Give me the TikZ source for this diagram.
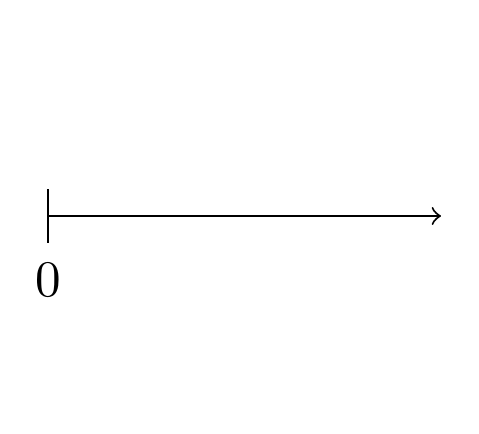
\documentclass[tikz,border=0pt]{standalone}
\usepackage{tikz}
\usetikzlibrary{positioning}

\begin{document}
\begin{tikzpicture}[
    x=0.00686cm, y=-0.00686cm,
    axis/.style={->},
    tick/.style={draw}
]
\useasboundingbox (0,0) rectangle (479,434);
\coordinate (origin) at (48,216);
\coordinate (axisend) at (441,216);
\coordinate (ticktop) at (48,189);
\coordinate (tickbot) at (48,243);
\node (zero) at (48,280.5) {0};

\draw [axis] (origin) -- (axisend);
\draw [tick] (ticktop) -- (tickbot);
\end{tikzpicture}
\end{document}
